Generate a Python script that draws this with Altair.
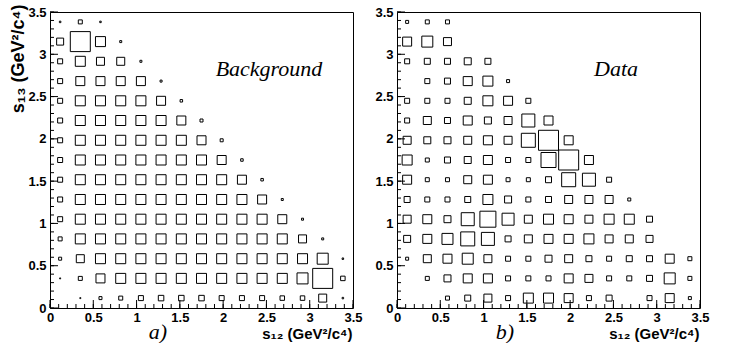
import altair as alt
import pandas as pd

# bin centres (15 bins over 0 .. 3.5 GeV^2/c^4), same for s12 and s13
bin_centers = [0.117, 0.35, 0.583, 0.817, 1.05, 1.283, 1.517, 1.75,
               1.983, 2.217, 2.45, 2.683, 2.917, 3.15, 3.383]

# tick labels / tick values
major_ticks = [0, 0.5, 1, 1.5, 2, 2.5, 3, 3.5]
minor_ticks = [round(i * 0.1, 1) for i in range(36)]

# bin contents, rows listed from top (s13 = 3.383) to bottom (s13 = 0.117),
# columns from s12 = 0.117 rightwards (arbitrary units, box side ~ content)
background_rows = [
    [1.5, 4, 1.5],
    [7, 20, 10, 2],
    [5, 10, 8, 8, 2],
    [5, 9, 9, 9, 9, 2],
    [5, 10, 10, 10, 10, 9, 2.5],
    [5, 10, 10, 10, 10, 10, 9, 3],
    [5, 10, 10, 10, 10, 10, 10, 9, 3],
    [5, 10, 10, 10, 10, 10, 10, 10, 9, 2.5],
    [5, 10, 10, 10, 10, 10, 10, 10, 10, 9, 2.5],
    [5, 10, 10, 10, 10, 10, 10, 10, 10, 10, 9, 2],
    [5, 10, 10, 10, 10, 10, 10, 10, 10, 10, 10, 9, 2],
    [4, 10, 10, 10, 10, 10, 10, 10, 10, 10, 10, 10, 8, 2],
    [3, 8, 10, 10, 10, 10, 10, 10, 10, 10, 10, 10, 10, 11, 1.5],
    [1, 4, 9, 10, 10, 10, 10, 10, 10, 10, 10, 10, 11, 20, 4.5],
    [0, 1, 3, 4, 5, 5.5, 5.5, 5.5, 5, 5, 5, 4.5, 4.5, 8, 1.5],
]

data_rows = [
    [3, 4, 4],
    [9, 11, 8],
    [5, 6, 6, 7, 6],
    [0, 5, 6, 9, 10, 3],
    [5, 5, 5, 7, 10, 9, 5],
    [5, 8, 6, 9, 7, 8, 13, 9],
    [8, 7, 7, 8, 9, 8, 14, 20, 9],
    [10, 4, 6, 7, 9, 5, 5, 15, 20, 9],
    [9, 4, 4, 8, 9, 4, 4, 6, 14, 13, 5],
    [6, 5, 5, 6, 10, 7, 5, 6, 8, 8, 8, 3],
    [8, 9, 7, 13, 16, 12, 8, 10, 9, 8, 10, 10, 6],
    [7, 9, 11, 14, 13, 6, 8, 9, 9, 10, 8, 8, 7],
    [3, 8, 9, 11, 8, 5, 5, 7, 8, 6, 5, 6, 6, 9, 4],
    [0, 4, 7, 9, 9, 5, 5, 5, 9, 8, 5, 5, 6, 11, 4],
    [0, 0, 4, 6, 8, 5, 10, 10, 9, 5, 6, 0, 5, 9, 3],
]

W, H = 303, 296
SANS = "Liberation Sans"
SERIF = "Liberation Serif"


def to_long(rows):
    recs = []
    n = len(bin_centers)
    for i, row in enumerate(rows):
        y = bin_centers[n - 1 - i]
        for j, v in enumerate(row):
            if v > 0:
                recs.append({"s12": bin_centers[j], "s13": y, "content": v})
    return pd.DataFrame(recs)


def scale():
    return alt.Scale(domain=[0, 3.5], nice=False, zero=False)


def panel(rows, label, tag, ytitle):
    df = to_long(rows)
    x_axis = alt.Axis(orient="bottom", values=major_ticks, format="~g", ticks=False,
                      grid=False, domain=False, labelFont=SANS, labelFontWeight="bold",
                      labelFontSize=13, labelColor="black", labelPadding=3,
                      labelFlush=False, labelOverlap=False,
                      title="s\u2081\u2082 (GeV\u00b2/c\u2074)", titleFont=SANS,
                      titleFontWeight="bold", titleFontSize=15, titleColor="black",
                      titleX=W - 1, titleY=30, titleAlign="right",
                      titleBaseline="alphabetic")
    y_kwargs = dict(orient="left", values=major_ticks, format="~g", ticks=False,
                    grid=False, domain=False, labelFont=SANS, labelFontWeight="bold",
                    labelFontSize=13, labelColor="black", labelPadding=4,
                    labelFlush=False, labelOverlap=False)
    if ytitle:
        y_axis = alt.Axis(title="s\u2081\u2083 (GeV\u00b2/c\u2074)", titleFont=SANS,
                          titleFontWeight="bold", titleFontSize=18, titleColor="black",
                          titleX=-32, titleY=-8, titleAlign="right", titleAngle=270,
                          titleBaseline="middle", **y_kwargs)
    else:
        y_axis = alt.Axis(title=None, **y_kwargs)

    squares = alt.Chart(df).mark_square(filled=False, color="black", strokeWidth=1,
                                        opacity=1).encode(
        x=alt.X("s12:Q", scale=scale(), axis=x_axis),
        y=alt.Y("s13:Q", scale=scale(), axis=y_axis),
        size=alt.Size("content:Q", scale=alt.Scale(type="pow", exponent=2,
                                                   domain=[0, 20], range=[0, 400]),
                      legend=None),
    )

    def tick_rules(values, length):
        tdf = pd.DataFrame({"s12": values, "s13": values})
        xt = alt.Chart(tdf).mark_rule(color="black", strokeWidth=1).encode(
            x=alt.X("s12:Q", scale=scale(), axis=x_axis),
            y=alt.value(H), y2=alt.value(H - length))
        yt = alt.Chart(tdf).mark_rule(color="black", strokeWidth=1).encode(
            y=alt.Y("s13:Q", scale=scale(), axis=y_axis),
            x=alt.value(0), x2=alt.value(length))
        return [xt, yt]

    txt = pd.DataFrame({"t": [label]})
    label_text = alt.Chart(txt).mark_text(font=SERIF, fontStyle="italic", fontSize=22,
                                          color="black", align="center",
                                          baseline="alphabetic").encode(
        text="t:N", x=alt.value(219), y=alt.value(64))
    tag_df = pd.DataFrame({"t": [tag]})
    tag_text = alt.Chart(tag_df).mark_text(font=SERIF, fontStyle="italic", fontSize=22,
                                           color="black", align="center",
                                           baseline="alphabetic").encode(
        text="t:N", x=alt.value(108), y=alt.value(H + 31))

    layers = [squares] + tick_rules(major_ticks, 8) + tick_rules(minor_ticks, 4) + \
        [label_text, tag_text]
    return alt.layer(*layers).properties(width=W, height=H)


left = panel(background_rows, "Background", "a)", True)
right = panel(data_rows, "Data", "b)", False)

chart = alt.hconcat(left, right, spacing=44, bounds="flush").properties(
    padding={"left": 8, "top": 3, "right": 5, "bottom": 0},
    background="white",
).configure_view(stroke="black", strokeWidth=1)

chart.save("out.html", embed_options={"renderer": "svg", "actions": False})
